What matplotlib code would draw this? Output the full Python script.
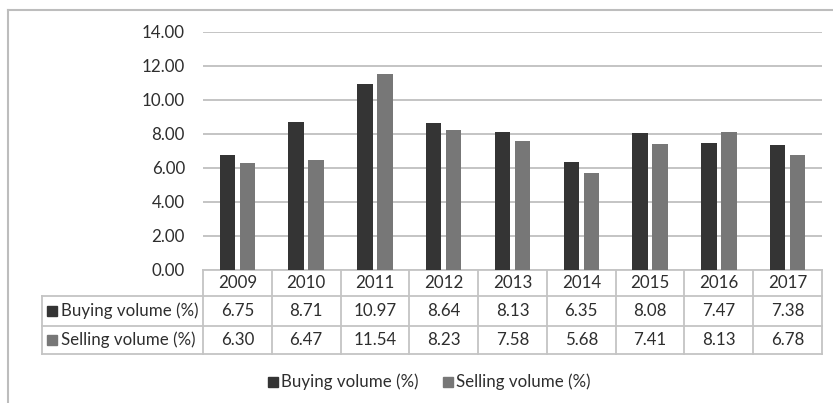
import matplotlib.pyplot as plt
import numpy as np

years = ["2009", "2010", "2011", "2012", "2013", "2014", "2015", "2016", "2017"]
buying = [6.75, 8.71, 10.97, 8.64, 8.13, 6.35, 8.08, 7.47, 7.38]
selling = [6.30, 6.47, 11.54, 8.23, 7.58, 5.68, 7.41, 8.13, 6.78]
series_names = ["Buying volume (%)", "Selling volume (%)"]
yticks = [0, 2, 4, 6, 8, 10, 12, 14]

plt.rcParams['font.family'] = ['Lato', 'DejaVu Sans']
W, H = 833, 403
DARK = "#343434"
LIGHT = "#777777"
GRID = "#c4c4c4"
TXT = "#2e2e2e"
FS = 12.2

fig = plt.figure(figsize=(W / 100, H / 100), dpi=100)

# layout in pixels
left, right, top, bottom = 203, 822, 32, 270
ax = fig.add_axes([left / W, 1 - bottom / H, (right - left) / W, (bottom - top) / H])
x = np.arange(len(years))
bw = 0.225
ax.bar(x - 0.145, buying, bw, color=DARK, zorder=3)
ax.bar(x + 0.145, selling, bw, color=LIGHT, zorder=3)
ax.set_xlim(-0.5, len(years) - 0.5)
ax.set_ylim(0, 14)
ax.set_yticks(yticks)
ax.set_yticklabels([f"{v:.2f}" for v in yticks], fontsize=FS, color=TXT)
ax.tick_params(axis='y', length=0, pad=13)
ax.set_xticks([])
ax.grid(axis='y', color=GRID, lw=1.4, zorder=0)
for s in ax.spines.values():
    s.set_visible(False)

# overlay in pixel coordinates for table, frame and legend
ov = fig.add_axes([0, 0, 1, 1], zorder=-1)
ov.set_xlim(0, W)
ov.set_ylim(H, 0)
ov.axis('off')
ov.plot([8, W], [10, 10], color="#bdbdbd", lw=1.5)
ov.plot([8, 8], [10, H], color="#bdbdbd", lw=1.5)

colw = (right - left) / len(years)
row_y = [270, 296, 326, 354]
tbl_left = 42
lc = "#c4c4c4"
# horizontal lines
ov.plot([left, right], [row_y[0], row_y[0]], color=lc, lw=1.3)
for yy in row_y[1:]:
    ov.plot([tbl_left, right], [yy, yy], color=lc, lw=1.3)
# vertical lines
for i in range(len(years) + 1):
    ov.plot([left + i * colw] * 2, [row_y[0], row_y[3]], color=lc, lw=1.3)
ov.plot([tbl_left, tbl_left], [row_y[1], row_y[3]], color=lc, lw=1.3)

for i, yr in enumerate(years):
    cx = left + (i + 0.5) * colw
    ov.text(cx, (row_y[0] + row_y[1]) / 2, yr, ha='center', va='center', fontsize=FS, color=TXT)
    ov.text(cx, (row_y[1] + row_y[2]) / 2, f"{buying[i]:.2f}", ha='center', va='center', fontsize=FS, color=TXT)
    ov.text(cx, (row_y[2] + row_y[3]) / 2, f"{selling[i]:.2f}", ha='center', va='center', fontsize=FS, color=TXT)

for r, (name, c) in enumerate(zip(series_names, [DARK, LIGHT])):
    cy = (row_y[r + 1] + row_y[r + 2]) / 2
    ov.add_patch(plt.Rectangle((47, cy - 5), 10, 10, color=c))
    ov.text(61, cy, name, ha='left', va='center', fontsize=FS, color=TXT)

# legend
leg_y = 382
for name, c, lx in zip(series_names, [DARK, LIGHT], [268, 443]):
    ov.add_patch(plt.Rectangle((lx, leg_y - 5), 10, 10, color=c))
    ov.text(lx + 13, leg_y, name, ha='left', va='center', fontsize=FS, color=TXT)

fig.savefig("out.png", dpi=100)
